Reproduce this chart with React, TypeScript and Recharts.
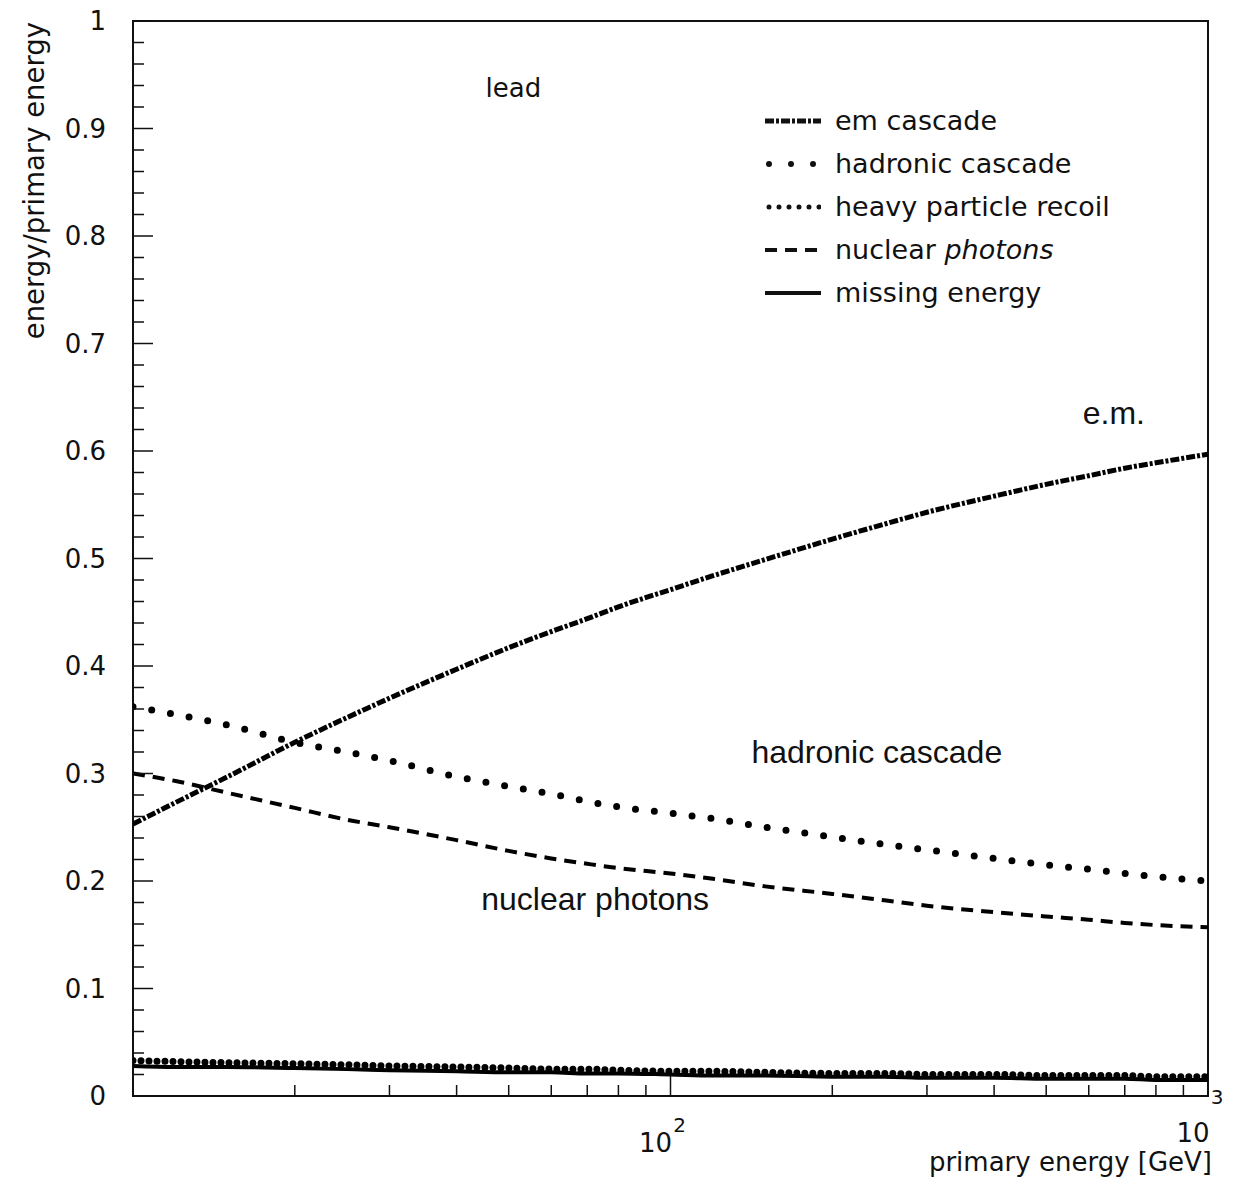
import React from 'react';
import {
	Label,
	Legend,
	Line,
	LineChart,
	ReferenceArea,
	ReferenceDot,
	XAxis,
	YAxis,
} from 'recharts';

// primary energy [GeV]
const energies = [10, 12, 15, 20, 25, 30, 40, 50, 60, 70, 80, 100, 120, 150, 200, 250, 300, 400, 500, 600, 700, 800, 1000];

// energy / primary energy
const emCascade = [0.253, 0.273, 0.297, 0.329, 0.352, 0.37, 0.397, 0.417, 0.432, 0.444, 0.455, 0.471, 0.484, 0.499, 0.518, 0.532, 0.543, 0.558, 0.569, 0.577, 0.584, 0.589, 0.597];
const hadronicCascade = [0.362, 0.355, 0.345, 0.329, 0.32, 0.312, 0.297, 0.288, 0.281, 0.274, 0.269, 0.263, 0.258, 0.25, 0.241, 0.234, 0.229, 0.221, 0.215, 0.211, 0.207, 0.204, 0.2];
const heavyRecoil = [0.033, 0.032, 0.031, 0.03, 0.029, 0.028, 0.027, 0.026, 0.025, 0.025, 0.024, 0.023, 0.023, 0.022, 0.021, 0.021, 0.02, 0.02, 0.019, 0.019, 0.019, 0.018, 0.018];
const nuclearPhotons = [0.3, 0.293, 0.282, 0.268, 0.257, 0.25, 0.238, 0.228, 0.221, 0.216, 0.212, 0.207, 0.202, 0.195, 0.188, 0.182, 0.177, 0.171, 0.167, 0.164, 0.161, 0.159, 0.157];
const missingEnergy = [0.028, 0.027, 0.027, 0.026, 0.025, 0.024, 0.023, 0.022, 0.022, 0.021, 0.021, 0.02, 0.019, 0.019, 0.018, 0.018, 0.017, 0.017, 0.016, 0.016, 0.016, 0.015, 0.015];

const xTicks = [10, 20, 30, 40, 50, 60, 70, 80, 90, 100, 200, 300, 400, 500, 600, 700, 800, 900, 1000];
const xTickLabels: Record<number, string> = { 100: '2', 1000: '3' };
const yTicks = [
	0, 0.02, 0.04, 0.06, 0.08, 0.1, 0.12, 0.14, 0.16, 0.18, 0.2, 0.22, 0.24, 0.26, 0.28, 0.3, 0.32, 0.34, 0.36, 0.38, 0.4,
	0.42, 0.44, 0.46, 0.48, 0.5, 0.52, 0.54, 0.56, 0.58, 0.6, 0.62, 0.64, 0.66, 0.68, 0.7, 0.72, 0.74, 0.76, 0.78, 0.8,
	0.82, 0.84, 0.86, 0.88, 0.9, 0.92, 0.94, 0.96, 0.98, 1,
];

const annotations = [
	{ text: 'lead', energy: 51, value: 0.938, root: true },
	{ text: 'e.m.', energy: 668, value: 0.636, root: false },
	{ text: 'hadronic cascade', energy: 242, value: 0.32, root: false },
	{ text: 'nuclear photons', energy: 72.4, value: 0.184, root: false },
];

const ROOT_FONT = '"DejaVu Sans", sans-serif';
const ARIAL = '"Liberation Sans", Arial, sans-serif';
const INK = '#111';

const series = [
	{ key: 'em', name: 'em cascade', width: 5, dash: '9 2 3 2', cap: 'butt' },
	{ key: 'hadronic', name: 'hadronic cascade', width: 7, dash: '0 19', cap: 'round' },
	{ key: 'heavy', name: 'heavy particle recoil', width: 7, dash: '0 8', cap: 'round' },
	{ key: 'nuclear', name: 'nuclear', italic: 'photons', width: 4, dash: '12 8', cap: 'butt' },
	{ key: 'missing', name: 'missing energy', width: 4, dash: undefined, cap: 'butt' },
];

const data = energies.map((e, i) => ({
	energy: e,
	em: emCascade[i],
	hadronic: hadronicCascade[i],
	heavy: heavyRecoil[i],
	nuclear: nuclearPhotons[i],
	missing: missingEnergy[i],
}));

const XTick = (props: any) => {
	const { x, y, payload } = props;
	const v = payload.value;
	const major = v === 100;
	const exp = xTickLabels[v];
	return (
		<g>
			<line x1={x} y1={y} x2={x} y2={y - (major ? 20 : 11)} stroke={INK} strokeWidth={1.5} />
			{exp && (
				<text x={x - 8} y={y + (v === 1000 ? 46 : 56)} textAnchor='middle' fontFamily={ROOT_FONT} fontSize={26} fill={INK}>
					10
					<tspan dx={1} dy={v === 1000 ? -38 : -20} fontSize={20}>
						{exp}
					</tspan>
				</text>
			)}
		</g>
	);
};

const YTick = (props: any) => {
	const { x, y, payload } = props;
	const v = payload.value;
	const major = Math.abs(v * 10 - Math.round(v * 10)) < 1e-6;
	return (
		<g>
			<line x1={x} y1={y} x2={x + (major ? 20 : 11)} y2={y} stroke={INK} strokeWidth={1.5} />
			{major && (
				<text x={x - 27} y={y} dy='0.36em' textAnchor='end' fontFamily={ROOT_FONT} fontSize={26} fill={INK}>
					{v === 0 || v === 1 ? String(v) : v.toFixed(1)}
				</text>
			)}
		</g>
	);
};

const LegendContent = (props: any) => {
	const payload = [...(props.payload || [])].sort(
		(a: any, b: any) =>
			series.findIndex((s) => s.key === a.dataKey) - series.findIndex((s) => s.key === b.dataKey)
	);
	return (
		<div style={{ fontFamily: ROOT_FONT, fontSize: 27, color: INK }}>
			{payload.map((entry: any) => {
				const s = series.find((item) => item.key === entry.dataKey);
				if (!s) return null;
				return (
					<div key={s.key} style={{ display: 'flex', alignItems: 'center', height: 43 }}>
						<svg width={56} height={12}>
							<line
								x1={s.cap === 'round' ? 4 : 0}
								y1={6}
								x2={56}
								y2={6}
								stroke={INK}
								strokeWidth={s.key === 'hadronic' ? 6 : s.key === 'heavy' ? 5 : s.width}
								strokeDasharray={s.key === 'hadronic' ? '0 22' : s.key === 'heavy' ? '0 10' : s.dash}
								strokeLinecap={s.cap as any}
							/>
						</svg>
						<span style={{ marginLeft: 14, whiteSpace: 'nowrap' }}>
							{s.name}
							{s.italic && <i> {s.italic}</i>}
						</span>
					</div>
				);
			})}
		</div>
	);
};

export default function App() {
	return (
		<div style={{ position: 'absolute', left: 0, top: 0, background: '#fff' }}>
			<LineChart width={1249} height={1177} data={data} margin={{ top: 21, right: 41, left: 0, bottom: 0 }}>
				<XAxis
					dataKey='energy'
					type='number'
					scale='log'
					domain={[10, 1000]}
					allowDataOverflow
					ticks={xTicks}
					interval={0}
					height={81}
					tickSize={0}
					tickMargin={0}
					axisLine={false}
					tickLine={false}
					tick={<XTick />}
					label={{
						content: () => (
							<text x={1212} y={1171} textAnchor='end' fontFamily={ROOT_FONT} fontSize={26} fill={INK}>
								primary energy [GeV]
							</text>
						),
					}}
				/>
				<YAxis
					type='number'
					domain={[0, 1]}
					ticks={yTicks}
					interval={0}
					width={133}
					tickSize={0}
					tickMargin={0}
					axisLine={false}
					tickLine={false}
					tick={<YTick />}
				>
					<Label
						content={() => (
							<text transform='translate(44,22) rotate(-90)' textAnchor='end' fontFamily={ROOT_FONT} fontSize={27.5} fill={INK}>
								energy/primary energy
							</text>
						)}
					/>
				</YAxis>
				<ReferenceArea x1={10} x2={1000} y1={0} y2={1} fill='none' stroke={INK} strokeWidth={2} ifOverflow='visible' />
				{series.map((s) => (
					<Line
						key={s.key}
						dataKey={s.key}
						name={s.name}
						type='monotone'
						stroke='#000'
						strokeWidth={s.width}
						strokeDasharray={s.dash}
						strokeLinecap={s.cap as any}
						dot={false}
						activeDot={false}
						isAnimationActive={false}
					/>
				))}
				{annotations.map((a) => (
					<ReferenceDot
						key={a.text}
						x={a.energy}
						y={a.value}
						r={0}
						fill='none'
						stroke='none'
						label={{
							value: a.text,
							position: 'center',
							fontFamily: a.root ? ROOT_FONT : ARIAL,
							fontSize: a.root ? 26 : 32,
							fill: INK,
						}}
					/>
				))}
				<Legend
					layout='horizontal'
					align='center'
					verticalAlign='middle'
					content={<LegendContent />}
					wrapperStyle={{ left: 765, top: 99, width: 420, height: 'auto' }}
				/>
			</LineChart>
		</div>
	);
}
